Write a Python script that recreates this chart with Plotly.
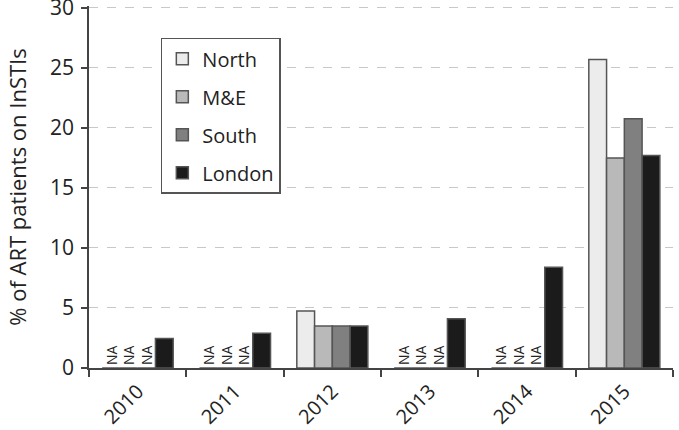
import plotly.graph_objects as go

years = ["2010", "2011", "2012", "2013", "2014", "2015"]
north = [None, None, 4.75, None, None, 25.7]
me = [None, None, 3.5, None, None, 17.5]
south = [None, None, 3.5, None, None, 20.75]
london = [2.45, 2.9, 3.5, 4.1, 8.4, 17.7]

series_names = ["North", "M&E", "South", "London"]
series_values = [north, me, south, london]
series_colors = ["#ececec", "#b9b9b9", "#808080", "#1b1b1b"]

FONT = "Open Sans"

fig = go.Figure()
for i, (name, vals, col) in enumerate(zip(series_names, series_values, series_colors)):
    fig.add_trace(go.Bar(
        name=name,
        x=years,
        y=[v if v is not None else 0 for v in vals],
        text=["NA" if v is None else "" for v in vals],
        textposition="outside",
        textangle=-90,
        cliponaxis=False,
        constraintext="none",
        textfont=dict(family=FONT, size=14, color="#222"),
        marker=dict(color=col, line=dict(color="#555555", width=1.5)),
        legendgroup=f"g{i}",
        hoverinfo="skip",
    ))

fig.update_layout(
    width=679, height=430,
    margin=dict(l=89, r=6, t=6, b=62, autoexpand=False),
    paper_bgcolor="white", plot_bgcolor="white",
    barmode="group", bargap=0.27, bargroupgap=0,
    font=dict(family=FONT, color="#222"),
    showlegend=True,
    legend=dict(
        x=0.123, y=0.912, xanchor="left", yanchor="top",
        bordercolor="#555555", borderwidth=1.5, bgcolor="white",
        font=dict(family=FONT, size=20, color="#222"),
        tracegroupgap=9,
    ),
    xaxis=dict(
        type="category",
        tickson="boundaries",
        ticks="outside", ticklen=7, tickcolor="#444", tickwidth=1.5,
        showline=True, linecolor="#444", linewidth=1.5,
        tickangle=-45,
        ticklabelstandoff=2,
        tickfont=dict(family=FONT, size=20, color="#222"),
        showgrid=False,
        automargin=False,
    ),
    yaxis=dict(
        range=[0, 30.15],
        tickmode="linear", tick0=0, dtick=5,
        ticks="outside", ticklen=6, tickcolor="#444", tickwidth=1.5,
        showline=True, linecolor="#444", linewidth=1.5,
        ticklabelstandoff=3,
        ticklabeloverflow="allow",
        tickfont=dict(family=FONT, size=21, color="#222"),
        showgrid=True, gridcolor="#c8c8c8", griddash="dash", gridwidth=1,
        zeroline=False,
        automargin=False,
        title=dict(text="% of ART patients on InSTIs", font=dict(family=FONT, size=22, color="#222"), standoff=17),
    ),
)

fig.write_html(
    "out.html",
    config={"displayModeBar": False},
    post_script="document.body.style.margin='0';document.body.style.padding='0';document.body.style.overflow='hidden';",
)
